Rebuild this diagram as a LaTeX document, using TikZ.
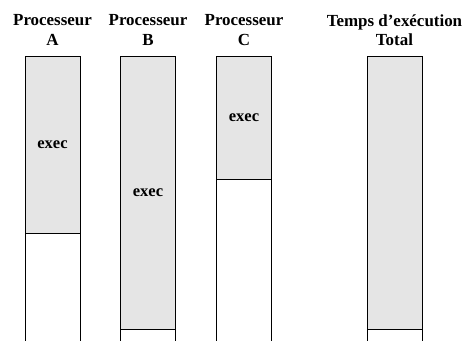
\documentclass[tikz,border=0pt]{standalone}
\usepackage{fontspec}
\setmainfont{Liberation Serif}
\definecolor{execgray}{RGB}{229,229,229}

\tikzset{every picture/.style={line width=0.75pt}}

\begin{document}
\begin{tikzpicture}[x=0.75pt,y=0.75pt,yscale=-1,xscale=1,
  titletext/.style={anchor=north, inner sep=0.75pt, align=center,
    font=\fontsize{12.7}{14.6}\selectfont\bfseries},
  execbox/.style={draw, fill=execgray, anchor=north west, inner sep=0pt,
    outer sep=0pt, minimum width=41.25pt,
    font=\fontsize{12.4}{14}\selectfont\bfseries}]
\useasboundingbox (0,0) rectangle (464,340);
%bottom edge of the columns
\coordinate (bottom) at (0,341);

% Text Node
\node[titletext] (titleA) at (52.5,13) {Processeur\\A};
% Text Node
\node[titletext] (titleB) at (148,13) {Processeur\\B};
% Text Node
\node[titletext] (titleC) at (244,13) {Processeur\\C};
% Text Node
\node[titletext] (titleT) at (394.5,13) {Temps d'exécution\\Total};

%Shape: Rectangle [id:execA] 
\node[execbox, minimum height=132.75pt] (execA) at (25,56) {exec};
%Shape: Rectangle [id:execB] 
\node[execbox, minimum height=204.75pt] (execB) at (120.5,56) {exec};
%Shape: Rectangle [id:execC] 
\node[execbox, minimum height=92.25pt] (execC) at (216.5,56) {exec};
%Shape: Rectangle [id:execT] 
\node[execbox, minimum height=204.75pt] (execT) at (367,56) {};

%Straight Lines, idle part of each column
\foreach \col in {execA,execB,execC,execT}{
  \draw (\col.south west) -- (\col.south west |- bottom);
  \draw (\col.south east) -- (\col.south east |- bottom);
}

\end{tikzpicture}
\end{document}
